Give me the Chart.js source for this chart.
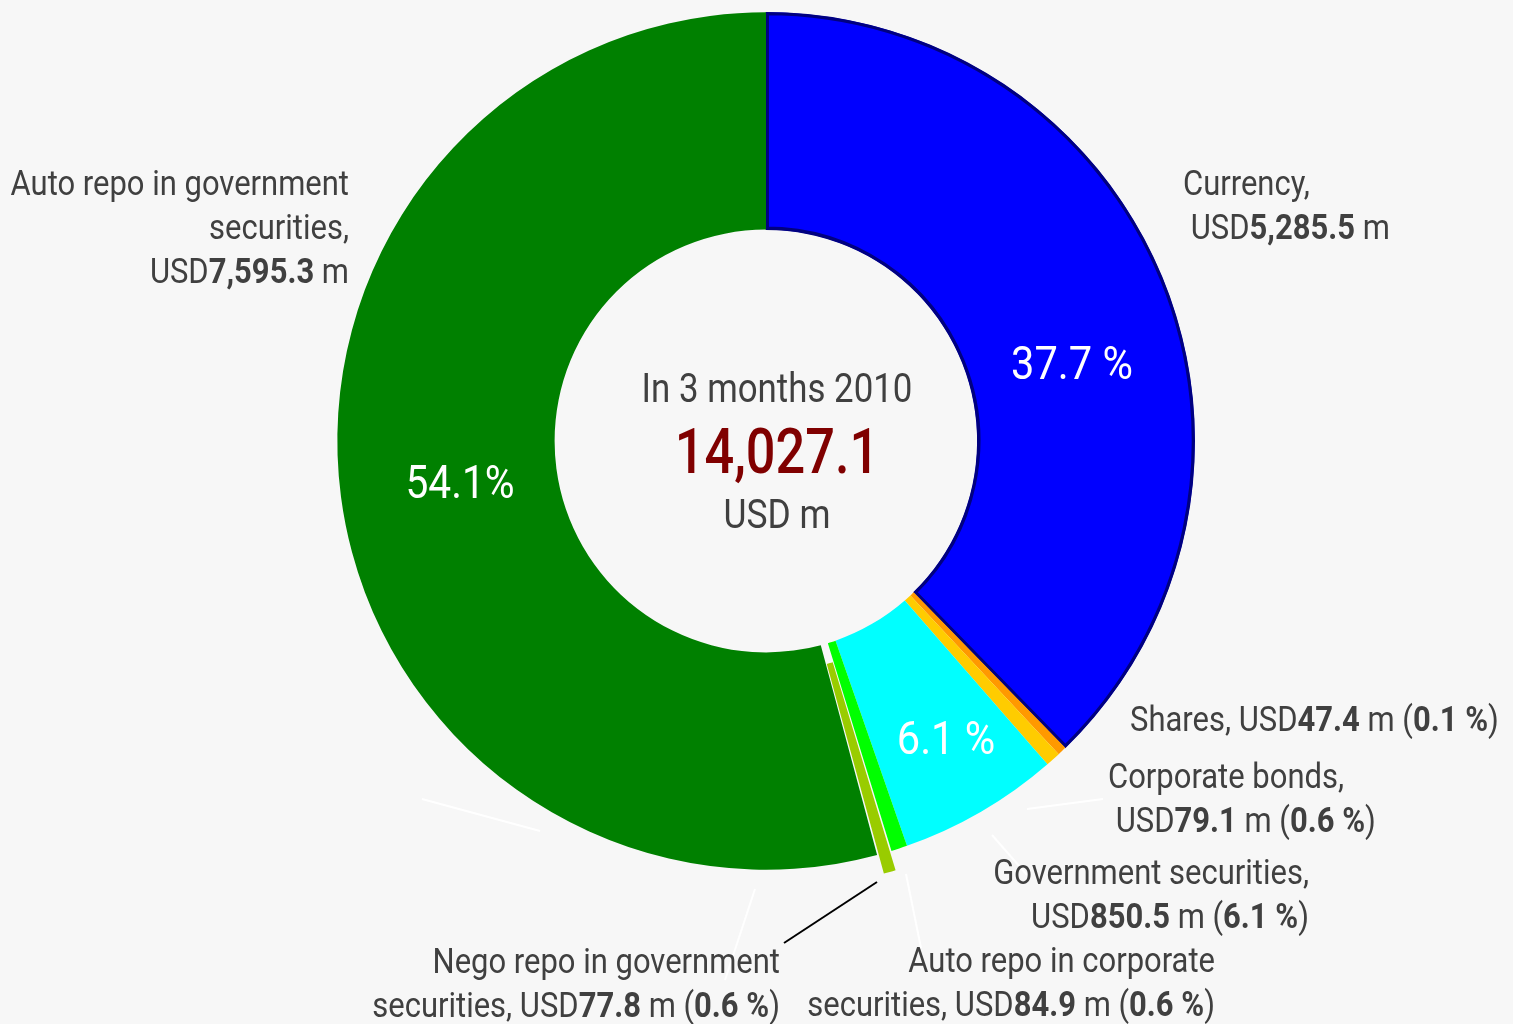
<!DOCTYPE html>
<html>
<head>
<meta charset="utf-8">
<script src="https://cdn.jsdelivr.net/npm/chart.js@4.4.1/dist/chart.umd.min.js"></script>
<style>
  html, body { margin: 0; padding: 0; background: #f7f7f7; }
  #wrap { width: 1513px; height: 1024px; }
</style>
</head>
<body>
<div id="wrap"><canvas id="c" width="1513" height="1024"></canvas></div>
<script>
// ---- data ----
const categories = [
  'Currency',
  'Shares',
  'Corporate bonds',
  'Government securities',
  'Auto repo in corporate securities',
  'Nego repo in government securities',
  'Auto repo in government securities'
];
const valuesUSDm = [5285.5, 47.4, 79.1, 850.5, 84.9, 77.8, 7595.3];
const shareLabels = ['37.7 %', '0.1 %', '0.6 %', '6.1 %', '0.6 %', '0.6 %', '54.1%'];
const insideLabels = ['37.7 %', null, null, '6.1 %', null, null, '54.1%'];
const centerTitle = 'In 3 months 2010';
const centerTotal = '14,027.1';
const centerUnit = 'USD m';

// label text templates ({v} = value, {p} = share, both drawn bold)
const labelTemplates = [
  ['Currency,', ' USD{v} m'],
  ['Shares, USD{v} m ({p})'],
  ['Corporate bonds,', ' USD{v} m ({p})'],
  ['Government securities,', 'USD{v} m ({p})'],
  ['Auto repo in corporate', 'securities, USD{v} m ({p})'],
  ['Nego repo in government', 'securities, USD{v} m ({p})'],
  ['Auto repo in government', 'securities,', 'USD{v} m']
];

// ---- styling / layout ----
const colors = ['#0000ff', '#ff9900', '#ffcc00', '#00ffff', '#00ff00', '#99cc00', '#008000'];
const labelPos = [
  {x: 1183, y: 195, align: 'left'},
  {x: 1130, y: 731, align: 'left'},
  {x: 1108, y: 788, align: 'left'},
  {x: 1309, y: 884, align: 'right'},
  {x: 1215, y: 972, align: 'right'},
  {x: 780,  y: 973, align: 'right'},
  {x: 349,  y: 195, align: 'right'}
];
const insidePos = [
  {x: 1072, y: 379, size: 47}, null, null,
  {x: 946, y: 754, size: 47}, null, null,
  {x: 460, y: 498, size: 46}
];
const leaderLines = [
  {pts: [[784, 943], [877, 882]], color: '#000000'},
  {pts: [[422, 799], [540, 831]], color: '#ffffff'},
  {pts: [[755, 889], [725, 980]], color: '#ffffff'},
  {pts: [[906, 874], [921, 948]], color: '#ffffff'},
  {pts: [[992, 835], [1027, 875]], color: '#ffffff'},
  {pts: [[1027, 809], [1103, 799]], color: '#ffffff'}
];
const FONT = 'Roboto, "Liberation Sans", sans-serif';
const SX = 0.885; // horizontal condensing
const TEXT = '#404040';

function fmt(v) {
  return v.toLocaleString('en-US', {minimumFractionDigits: 1, maximumFractionDigits: 1});
}

function segmentsFor(line, i) {
  const segs = [];
  const re = /\{(v|p)\}/g;
  let last = 0, m;
  while ((m = re.exec(line)) !== null) {
    if (m.index > last) segs.push({t: line.slice(last, m.index), b: false});
    segs.push({t: m[1] === 'v' ? fmt(valuesUSDm[i]) : shareLabels[i], b: true});
    last = re.lastIndex;
  }
  if (last < line.length) segs.push({t: line.slice(last), b: false});
  return segs;
}

function drawRich(ctx, segs, x, y, align, size, color, sx, weight) {
  sx = sx || SX;
  let w = 0;
  const fontOf = s => (s.b ? 'bold ' : (weight ? weight + ' ' : '')) + size + 'px ' + FONT;
  segs.forEach(s => {
    ctx.font = fontOf(s);
    s.w = ctx.measureText(s.t).width;
    w += s.w;
  });
  let start = align === 'right' ? x / sx - w : align === 'center' ? x / sx - w / 2 : x / sx;
  ctx.save();
  ctx.scale(sx, 1);
  ctx.fillStyle = color;
  ctx.textBaseline = 'alphabetic';
  ctx.textAlign = 'left';
  segs.forEach(s => {
    ctx.font = fontOf(s);
    ctx.fillText(s.t, start, y);
    start += s.w;
  });
  ctx.restore();
}

const labelsPlugin = {
  id: 'labelsPlugin',
  beforeDraw(chart) {
    const ctx = chart.ctx;
    ctx.save();
    ctx.fillStyle = '#f7f7f7';
    ctx.fillRect(0, 0, chart.width, chart.height);
    ctx.restore();
  },
  afterDatasetsDraw(chart) {
    const ctx = chart.ctx;
    // leader lines
    ctx.save();
    ctx.lineWidth = 2;
    leaderLines.forEach(l => {
      ctx.strokeStyle = l.color;
      ctx.beginPath();
      ctx.moveTo(l.pts[0][0], l.pts[0][1]);
      for (let k = 1; k < l.pts.length; k++) ctx.lineTo(l.pts[k][0], l.pts[k][1]);
      ctx.stroke();
    });
    ctx.restore();
    // outside labels
    labelTemplates.forEach((lines, i) => {
      const p = labelPos[i];
      lines.forEach((line, j) => {
        drawRich(ctx, segmentsFor(line, i), p.x, p.y + j * 44, p.align, 35, TEXT);
      });
    });
    // inside percentage labels
    insideLabels.forEach((t, i) => {
      if (!t) return;
      const p = insidePos[i];
      drawRich(ctx, [{t: t, b: false}], p.x, p.y, 'center', p.size, '#ffffff');
    });
    // centre text
    const meta = chart.getDatasetMeta(0);
    const cx = meta.data[0].x + 11;
    drawRich(ctx, [{t: centerTitle, b: false}], cx, 402, 'center', 41, TEXT, 0.85);
    drawRich(ctx, [{t: centerTotal, b: false}], cx, 473, 'center', 63, '#800000', 0.83, 500);
    drawRich(ctx, [{t: centerUnit, b: false}], cx, 528, 'center', 40, TEXT);
  }
};

new Chart(document.getElementById('c'), {
  type: 'doughnut',
  data: {
    labels: categories,
    datasets: [{
      data: valuesUSDm,
      backgroundColor: colors,
      borderColor: ['#000080', 'rgba(0,0,0,0)', 'rgba(0,0,0,0)', 'rgba(0,0,0,0)', 'rgba(0,0,0,0)', 'rgba(0,0,0,0)', 'rgba(0,0,0,0)'],
      borderWidth: [3, 0, 0, 0, 0, 0, 0],
      borderAlign: 'inner',
      offset: [0, 0, 0, 0, 0, 40, 0],
      hoverOffset: 0
    }]
  },
  options: {
    responsive: false,
    animation: false,
    radius: 429,
    cutout: '49.2%',
    layout: {padding: {left: 19, right: 0, top: 0, bottom: 142}},
    plugins: {
      legend: {display: false},
      tooltip: {enabled: false}
    },
    events: []
  },
  plugins: [labelsPlugin]
});
</script>
</body>
</html>
